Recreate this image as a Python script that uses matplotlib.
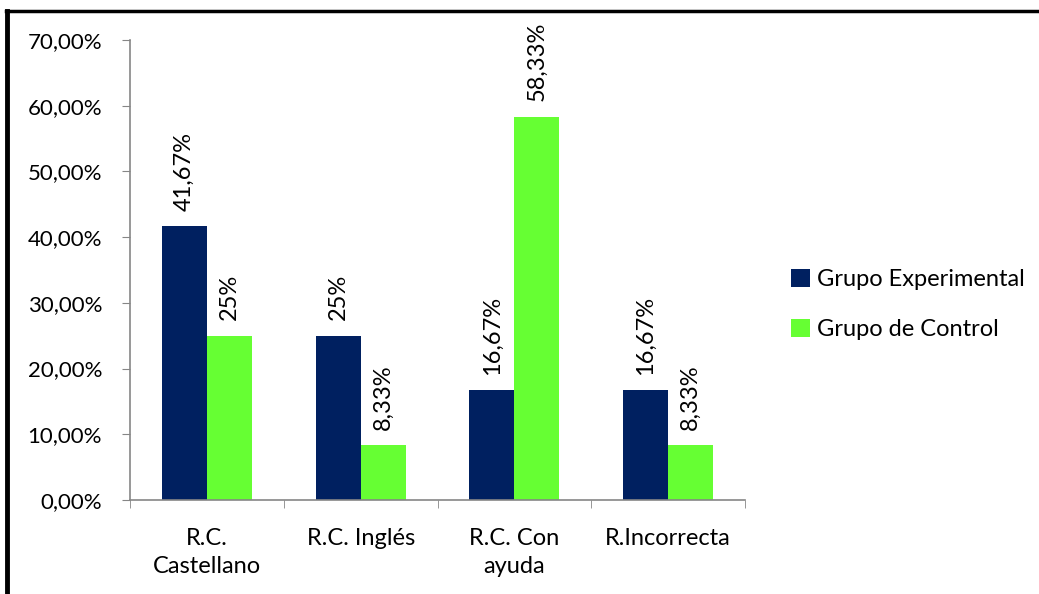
import numpy as np
import matplotlib.pyplot as plt
from matplotlib.lines import Line2D

categorias = ["R.C.\nCastellano", "R.C. Inglés", "R.C. Con\nayuda", "R.Incorrecta"]
experimental = [41.67, 25.0, 16.67, 16.67]
control = [25.0, 8.33, 58.33, 8.33]
etiq_exp = ["41,67%", "25%", "16,67%", "16,67%"]
etiq_con = ["25%", "8,33%", "58,33%", "8,33%"]
series = ["Grupo Experimental", "Grupo de Control"]
yticks = [0, 10, 20, 30, 40, 50, 60, 70]
ytick_labels = ["0,00%", "10,00%", "20,00%", "30,00%", "40,00%", "50,00%", "60,00%", "70,00%"]

plt.rcParams['font.family'] = ['Lato', 'DejaVu Sans']
fs = 17

fig = plt.figure(figsize=(10.39, 5.94), dpi=100)
ax = fig.add_axes([0.1251, 0.1582, 0.592, 0.7745])

x = np.arange(len(categorias))
w = 0.293
b1 = ax.bar(x - w/2, experimental, w, color='#002060', label=series[0])
b2 = ax.bar(x + w/2, control, w, color='#66FF33', label=series[1])

for bars, labs in ((b1, etiq_exp), (b2, etiq_con)):
    for r, t in zip(bars, labs):
        ax.annotate(t, (r.get_x() + r.get_width()/2, r.get_height()),
                    xytext=(0, 11), textcoords='offset points',
                    rotation=90, ha='center', va='bottom', fontsize=fs)

ax.set_xlim(-0.5, len(categorias) - 0.5)
ax.set_ylim(0, 70)
ax.set_yticks(yticks)
ax.set_yticklabels(ytick_labels, fontsize=16)
ax.set_xticks(x)
ax.set_xticklabels(categorias, fontsize=fs, linespacing=1.45)
ax.set_xticks(np.arange(len(categorias) + 1) - 0.5, minor=True)
ax.tick_params(axis='x', which='major', length=0, pad=20)
ax.tick_params(axis='x', which='minor', length=6, color='#868686', direction='out')
ax.tick_params(axis='y', length=6, color='#868686', direction='out', pad=14)

for s in ['top', 'right']:
    ax.spines[s].set_visible(False)
for s in ['left', 'bottom']:
    ax.spines[s].set_color('#868686')
    ax.spines[s].set_linewidth(1.2)

ax.legend(loc='center left', bbox_to_anchor=(1.04, 0.425), frameon=False,
          fontsize=fs, handlelength=0.8, handleheight=0.8, handletextpad=0.3,
          labelspacing=1.2)

# marco negro (solo arriba e izquierda)
fig.add_artist(Line2D([0.0072, 0.0072], [0, 0.982], color='black', lw=3.5, transform=fig.transFigure))
fig.add_artist(Line2D([0.0055, 1], [0.981, 0.981], color='black', lw=2.5, transform=fig.transFigure))

fig.savefig('out.png', dpi=100)
